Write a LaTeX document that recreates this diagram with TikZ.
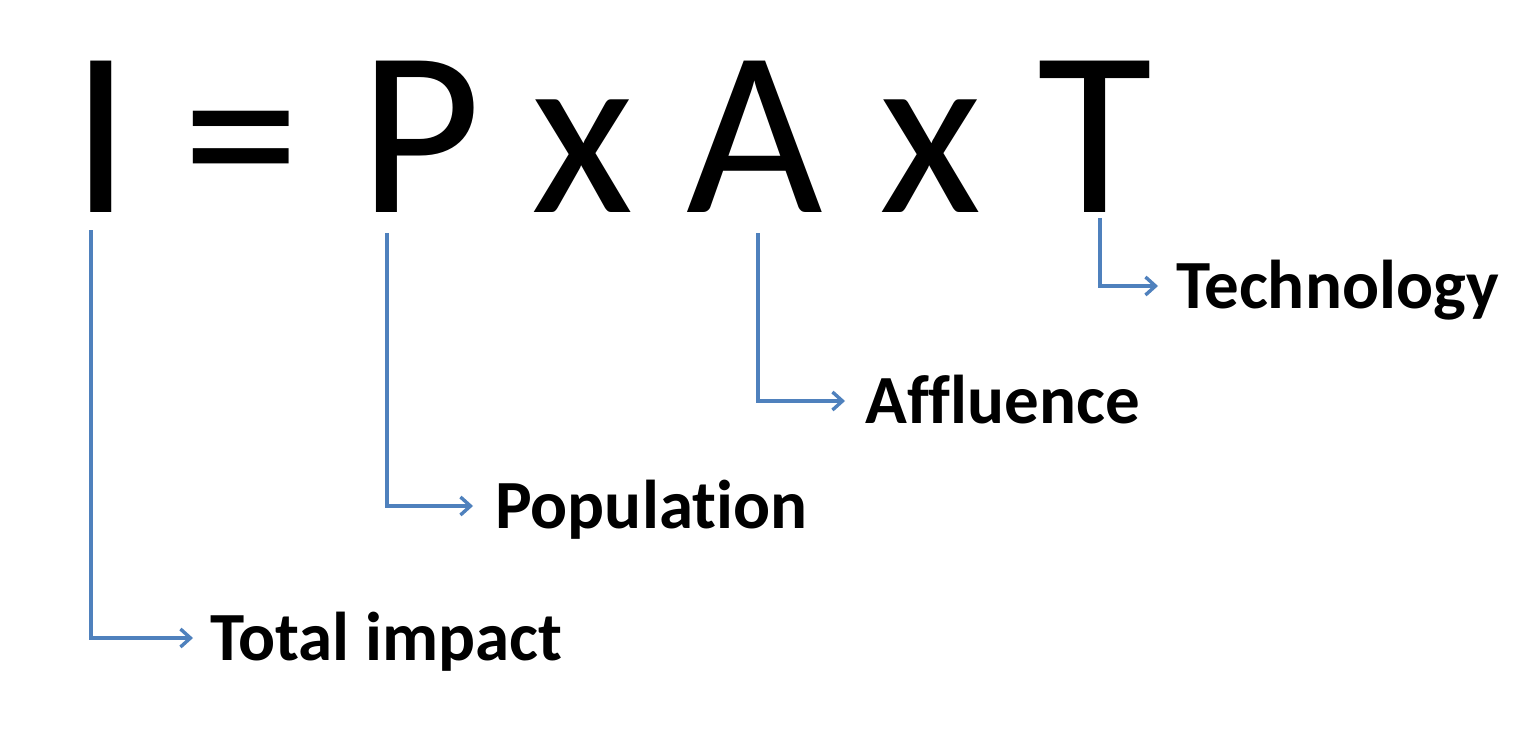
\documentclass[tikz,border=0pt]{standalone}
\usepackage{fontspec}
\setmainfont{Carlito}[Ligatures=NoCommon]
\usetikzlibrary{arrows.meta}
\definecolor{conncol}{HTML}{4F81BD}
\begin{document}
\begin{tikzpicture}[x=1pt,y=-1pt,
  eq/.style={inner sep=0pt, anchor=base, font=\fontsize{236}{240}\selectfont},
  lbl/.style={inner sep=0pt, anchor=base west, text height=44pt, text depth=0pt, font=\fontsize{69}{72}\selectfont\bfseries},
  conn/.style={draw=conncol, line width=3.4pt, -{Straight Barb[length=10pt,width=18pt]}}]
\useasboundingbox (0,0) rectangle (1527,741);
\fill[white] (0,0) rectangle (1527,741);
% equation
\node[eq] (I) at (101,212) {I};
\node[eq] (eqs) at (241,212) {=};
\node[eq] (P) at (420,212) {P};
\node[eq] (x1) at (583,212) {x};
\node[eq] (A) at (755,212) {A};
\node[eq] (x2) at (931,212) {x};
\node[eq] (T) at (1095,212) {T};
% labels
\node[lbl] (total) at (210,660) {Total impact};
\node[lbl] (pop) at (495,528) {Population};
\node[lbl] (aff) at (865,423) {Affluence};
\node[lbl] (tech) at (1176,308) {Technology};
% connector starts
\coordinate (sI) at (91,230);
\coordinate (sP) at (387,233);
\coordinate (sA) at (758,233);
\coordinate (sT) at (1100,218);
\draw[conn] (sI) |- ([xshift=-17pt]total.west);
\draw[conn] (sP) |- ([xshift=-22pt]pop.west);
\draw[conn] (sA) |- ([xshift=-20pt]aff.west);
\draw[conn] (sT) |- ([xshift=-18pt]tech.west);
\end{tikzpicture}
\end{document}
